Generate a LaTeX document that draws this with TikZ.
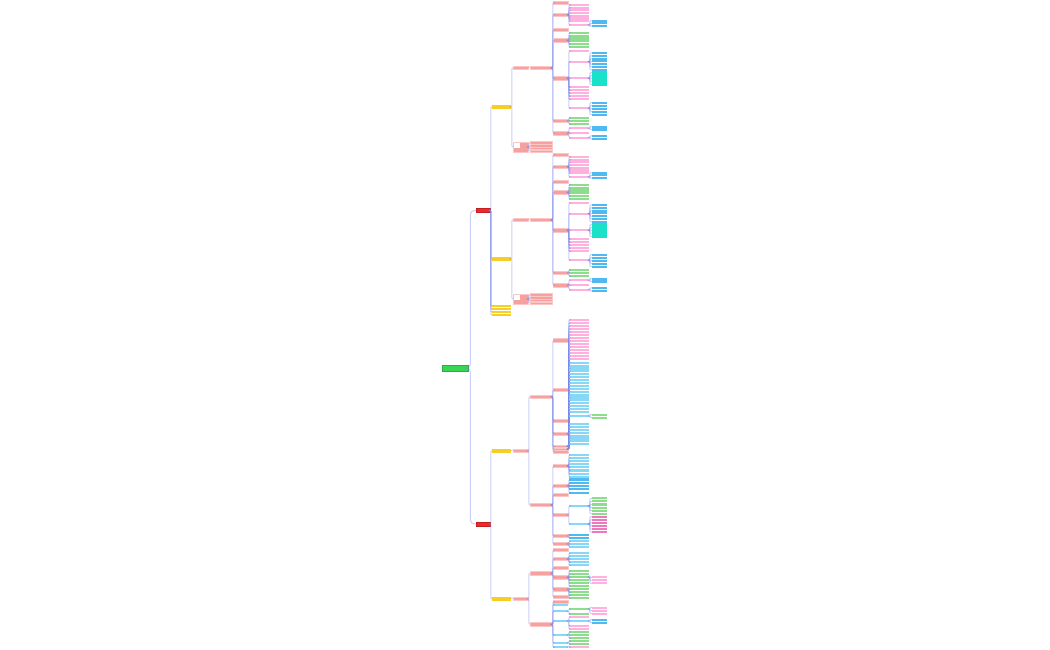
\documentclass[tikz,border=0pt]{standalone}
\usepackage{xcolor}

\definecolor{cRoot}{RGB}{55,215,85}
\definecolor{cRed}{RGB}{240,40,40}
\definecolor{cYellow}{RGB}{246,206,40}
\definecolor{cSalmon}{RGB}{247,160,160}
\definecolor{cPink}{RGB}{255,176,222}
\definecolor{cLeafGreen}{RGB}{140,222,140}
\definecolor{cLightBlue}{RGB}{135,216,246}
\definecolor{cBlue}{RGB}{80,186,240}
\definecolor{cTeal}{RGB}{25,226,200}
\definecolor{cMagenta}{RGB}{238,120,190}
\definecolor{cLink}{RGB}{120,135,235}

% a parent node gets one box per y value, all in one column
\newcommand{\addkids}[4]{%
  \foreach \yy [count=\k] in {#4}{%
    \node[#2] (#1-\k) at (#3,\yy) {};
    \draw[link] (#1.east) -- ++(0.5,0) |- (#1-\k.west);
  }}

\begin{document}
\begin{tikzpicture}[x=0.1mm,y=-0.1mm]
\useasboundingbox (0,0) rectangle (1050,650);

%style for all boxes
\tikzstyle{box} = [rectangle, inner sep=0pt, anchor=west, line width=0.04mm]
\tikzstyle{rootbox} = [box, fill=cRoot, draw=cRoot!80!black, minimum width=2.6mm, minimum height=0.55mm]
\tikzstyle{redbox} = [box, fill=cRed, draw=cRed!80!black, minimum width=1.4mm, minimum height=0.4mm]
\tikzstyle{yelbox} = [box, fill=cYellow, minimum width=1.9mm, minimum height=0.35mm]
\tikzstyle{salbox} = [box, fill=cSalmon, draw=cSalmon!60!white, minimum width=1.5mm, minimum height=0.33mm]
\tikzstyle{widebox} = [salbox, minimum width=2.2mm]

%style for leaf boxes
\tikzstyle{leaf} = [box, minimum width=2mm, minimum height=0.21mm]
\tikzstyle{narrow} = [minimum width=1.5mm]
\tikzstyle{pinkleaf} = [leaf, fill=cPink]
\tikzstyle{greenleaf} = [leaf, fill=cLeafGreen]
\tikzstyle{lblueleaf} = [leaf, fill=cLightBlue]
\tikzstyle{blueleaf} = [leaf, fill=cBlue]
\tikzstyle{tealleaf} = [leaf, fill=cTeal]
\tikzstyle{magleaf} = [leaf, fill=cMagenta]
\tikzstyle{yelleaf} = [yelbox, minimum height=0.23mm]

%style for lines
\tikzstyle{link} = [draw=cLink, line width=0.1mm, draw opacity=0.4, rounded corners=0.1mm]

%root and main branches
\node[rootbox] (root) at (442,368) {};
\node[redbox] (redA) at (476,210.5) {};
\node[redbox] (redB) at (476,524) {};
\draw[link, rounded corners=0.4mm] (root.east) -- ++(2,0) |- (redA.west);
\draw[link, rounded corners=0.4mm] (root.east) -- ++(2,0) |- (redB.west);

%yellow leaves of the upper branch
\addkids{redA}{yelleaf}{492}{306,309,312,315}

%two groups of the upper branch, same layout
\foreach \g/\dy in {A/0,M/-15.2}{
\begin{scope}[yshift=\dy mm]
\node[yelbox] (y\g) at (492,107) {};
\draw[link] (redA.east) -- ++(0.5,0) |- (y\g.west);
\node[salbox] (s\g) at (513,68) {};
\node[widebox] (b\g) at (530,68) {};
\node[salbox, minimum height=1mm] (pic\g) at (513,147) {};
\fill[white] ([xshift=0.1mm,yshift=-0.1mm]pic\g.north west) rectangle +(6,5);
\draw[link] (y\g.east) -- ++(0.5,0) |- (s\g.west);
\draw[link] (y\g.east) -- ++(0.5,0) |- (pic\g.west);
\draw[link] (s\g) -- (b\g);
\addkids{pic\g}{widebox,minimum height=0.24mm}{530}{142.7,145.7,148.4,151.2}
\addkids{b\g}{salbox}{553}{2.5,14.7,30,40.3,78.3,121,133.3}
\addkids{b\g-2}{pinkleaf}{569}{5,7.7,10.4,13.1,15.8,18.5,21.2,25}
\addkids{b\g-2-8}{blueleaf,narrow}{592}{20.7,23.4,26.1}
\addkids{b\g-4}{greenleaf}{569}{32.7,35.6,38.5,41.4,44.3,47.2}
\addkids{b\g-5}{pinkleaf}{569}{51,61.7,78.3,87.3,90.3,93.3,96.3,99.3,108.3}
\addkids{b\g-5-2}{blueleaf,narrow}{592}{53,55.8,58.6,61.4,64.2,67,69.8}
\addkids{b\g-5-3}{tealleaf,narrow}{592}{72.5,75.5,78.5,81.5,84.5}
\addkids{b\g-5-9}{blueleaf,narrow}{592}{102.7,105.7,108.7,111.7,114.7}
\addkids{b\g-6}{greenleaf}{569}{117.7,121,124.3}
\addkids{b\g-7}{pinkleaf}{569}{128.3,133.3,137.7}
\addkids{b\g-7-1}{blueleaf,narrow}{592}{126.7,129.5}
\addkids{b\g-7-3}{blueleaf,narrow}{592}{136,138.8}
\end{scope}
}

%lower branch, first group
\node[yelbox] (yB1) at (492,451) {};
\node[yelbox] (yB2) at (492,599) {};
\draw[link] (redB.east) -- ++(0.5,0) |- (yB1.west);
\draw[link] (redB.east) -- ++(0.5,0) |- (yB2.west);
\node[salbox] (sB1) at (513,451) {};
\node[widebox] (dB1) at (530,396.7) {};
\node[widebox] (dB2) at (530,505) {};
\draw[link] (yB1) -- (sB1);
\draw[link] (sB1.east) -- ++(0.5,0) |- (dB1.west);
\draw[link] (sB1.east) -- ++(0.5,0) |- (dB2.west);
\addkids{dB1}{salbox}{553}{340.3,390,420.7,433.7}
\addkids{dB1}{salbox,minimum height=0.23mm}{553}{446.3,449,451.7}
\addkids{dB1-1}{pinkleaf}{569}{320,323,326,329,332,335,338,341,344,347,350,353,356,359}
\addkids{dB1-2}{lblueleaf}{569}{362.7,365.6,368.5,371.4,374.3,377.2,380.1,383,385.9,388.8,391.7,394.6,397.5,400.4,403.3,406.2,409.1,412,416}
\addkids{dB1-2-19}{greenleaf,narrow}{592}{414.7,417.7}
\addkids{dB1-4}{lblueleaf}{569}{424,426.9,429.8,432.7,435.6,438.5,441.4,444.3}
\addkids{dB2}{salbox}{553}{466,485.7,495,515,536,544}
\addkids{dB2-1}{lblueleaf}{569}{455,458.1,461.2,464.3,467.4,470.5,473.6,476.7}
\addkids{dB2-2}{blueleaf}{569}{479.5,482.8,486.1,489.4,492.7}
\addkids{dB2-4}{lblueleaf}{569}{506,524}
\addkids{dB2-4-1}{greenleaf,narrow}{592}{498.3,501.4,504.5,507.6,510.7,513.8}
\addkids{dB2-4-2}{magleaf,narrow}{592}{516.7,519.8,522.9,526,529.1,532.2}
\addkids{dB2-5}{blueleaf}{569}{534.8,537.7}
\addkids{dB2-6}{lblueleaf}{569}{541.4,544.2,547}

%lower branch, second group
\node[salbox] (sB2) at (513,599) {};
\node[widebox] (eB1) at (530,573.3) {};
\node[widebox] (eB2) at (530,624.3) {};
\draw[link] (yB2) -- (sB2);
\draw[link] (sB2.east) -- ++(0.5,0) |- (eB1.west);
\draw[link] (sB2.east) -- ++(0.5,0) |- (eB2.west);
\addkids{eB1}{salbox}{553}{550,559,568,577.3,589.3,597}
\addkids{eB1-2}{lblueleaf}{569}{553.3,556.3,559.3,562.3,565.3}
\addkids{eB1-4}{greenleaf}{569}{571,574,577,580,583,586}
\addkids{eB1-4-3}{pinkleaf,narrow}{592}{577.3,580.3,583.3}
\addkids{eB1-5}{greenleaf}{569}{589.3,592.3,595.3,598.3}
\node[salbox] (eB2-0) at (553,601.7) {};
\draw[link] (eB2.east) -- ++(0.5,0) |- (eB2-0.west);
\addkids{eB2}{lblueleaf,narrow}{553}{605,611.3,621,635,642.7,647.3}
\addkids{eB2-2}{greenleaf}{569}{609,614.3}
\addkids{eB2-2-1}{pinkleaf,narrow}{592}{607.7,610.7,613.7}
\node[lblueleaf] (eB2-3-0) at (569,621) {};
\draw[link] (eB2-3.east) -- ++(0.5,0) |- (eB2-3-0.west);
\addkids{eB2-3}{pinkleaf}{569}{617.3,626,629}
\addkids{eB2-3-0}{blueleaf,narrow}{592}{619.7,622.7}
\addkids{eB2-4}{greenleaf}{569}{632,635,638.3}
\addkids{eB2-5}{greenleaf}{569}{641,644.3}
\addkids{eB2-6}{pinkleaf}{569}{647.3}
\end{tikzpicture}
\end{document}
